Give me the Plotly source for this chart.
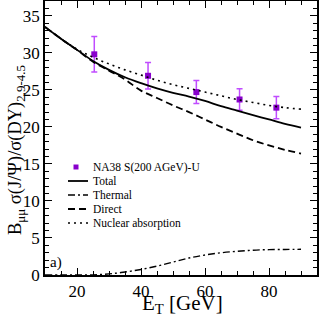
import plotly.graph_objects as go

# Data
et_data = [25.4, 42.2, 57.3, 70.8, 82.3]
ratio_data = [29.8, 26.9, 24.7, 23.7, 22.6]
ratio_err = [2.4, 1.8, 1.55, 1.45, 1.5]

et_curve = [10, 15, 20, 25, 30, 35, 40, 45, 50, 55, 60, 65, 70, 75, 80, 85, 90]
total = [33.5, 31.9, 30.4, 28.9, 27.7, 26.7, 25.9, 25.2, 24.6, 24.1, 23.5, 22.8, 22.2, 21.6, 21.0, 20.4, 19.9]
thermal = [0.0, 0.0, 0.0, 0.02, 0.15, 0.4, 0.75, 1.2, 1.75, 2.3, 2.7, 3.0, 3.2, 3.35, 3.42, 3.45, 3.47]
direct = [33.5, 31.9, 30.4, 28.8, 27.6, 26.4, 24.9, 23.9, 22.9, 22.0, 21.0, 20.0, 19.1, 18.2, 17.5, 16.9, 16.4]
nuclear = [33.5, 31.9, 30.5, 29.4, 28.5, 27.7, 27.0, 26.3, 25.7, 25.2, 24.7, 24.2, 23.7, 23.3, 22.9, 22.6, 22.4]

legend_labels = ["NA38 S(200 AGeV)-U", "Total", "Thermal", "Direct", "Nuclear absorption"]

FONT = "Times New Roman, Liberation Serif, Tinos, serif"
MARKER_COLOR = "#8800cc"
ERR_COLOR = "#c04cff"

styles = {
    "Total": dict(color="black", width=1.8, dash="solid"),
    "Thermal": dict(color="black", width=1.4, dash="7px,3px,2px,3px"),
    "Direct": dict(color="black", width=1.8, dash="7px,4px"),
    "Nuclear absorption": dict(color="black", width=1.6, dash="2px,4px"),
}

fig = go.Figure()
fig.add_trace(go.Scatter(
    x=et_data, y=ratio_data, mode="markers", name=legend_labels[0],
    marker=dict(symbol="square", size=6, color=MARKER_COLOR),
    error_y=dict(type="data", array=ratio_err, color=ERR_COLOR, thickness=1.5, width=3),
))
for name, vals in [("Total", total), ("Thermal", thermal), ("Direct", direct),
                   ("Nuclear absorption", nuclear)]:
    fig.add_trace(go.Scatter(x=et_curve, y=vals, mode="lines", name=name,
                             line=dict(shape="spline", **styles[name])))

axis_common = dict(
    showline=True, linecolor="black", linewidth=1.5, mirror="ticks",
    ticks="inside", ticklen=7, tickwidth=1.2, tickcolor="black",
    showgrid=False, zeroline=False, automargin=False,
    tickfont=dict(family=FONT, size=17, color="black"),
)

fig.update_xaxes(
    range=[10, 95], tickmode="array", tickvals=[20, 40, 60, 80],
    minor=dict(dtick=5, tick0=0, ticks="inside", ticklen=4, tickcolor="black", tickwidth=1),
    **axis_common,
)
fig.update_yaxes(
    range=[0, 37], tickmode="array", tickvals=[0, 5, 10, 15, 20, 25, 30, 35],
    minor=dict(dtick=1, tick0=0, ticks="inside", ticklen=4, tickcolor="black", tickwidth=1),
    **axis_common,
)

# plot-area geometry in pixels (for placing the layout texts / legend)
W, H = 320, 318
L, R, T, B = 45, 3, 1, 43
pw, ph = W - L - R, H - T - B


def px(xp):
    return (xp - L) / pw


def py(yp):
    return (H - B - yp) / ph


# axis titles
fig.add_annotation(x=px(182), y=py(304), xref="paper", yref="paper",
                   text="E<sub>T</sub> [GeV]", showarrow=False,
                   xanchor="center", yanchor="middle",
                   font=dict(family=FONT, size=21, color="black"))
fig.add_annotation(x=px(17), y=py(150), xref="paper", yref="paper",
                   text="B<sub>μμ</sub> σ(J/Ψ)/σ(DY)<sub>2.9-4.5</sub>", showarrow=False,
                   textangle=-90, xanchor="center", yanchor="middle",
                   font=dict(family=FONT, size=18.5, color="black"))

fig.add_annotation(x=px(48), y=py(262), xref="paper", yref="paper", text="a)",
                   showarrow=False, xanchor="left", yanchor="middle",
                   font=dict(family=FONT, size=15, color="black"))

# legend drawn compactly (row spacing as in the reference)
rows_y = [167, 181, 195, 209, 223]
for i, (lab, yrow) in enumerate(zip(legend_labels, rows_y)):
    fig.add_annotation(x=px(91), y=py(yrow), xref="paper", yref="paper", text=lab,
                       showarrow=False, xanchor="left", yanchor="middle",
                       font=dict(family=FONT, size=11.5, color="black"))
    if i == 0:
        fig.add_shape(type="rect", xref="paper", yref="paper",
                      x0=px(73.5), x1=px(78.5), y0=py(yrow + 2.5), y1=py(yrow - 2.5),
                      fillcolor=MARKER_COLOR, line=dict(width=0))
    else:
        st = styles[lab]
        fig.add_shape(type="line", xref="paper", yref="paper",
                      x0=px(68), x1=px(88), y0=py(yrow), y1=py(yrow),
                      line=dict(color=st["color"], width=st["width"], dash=st["dash"]))

fig.update_layout(
    width=W, height=H,
    margin=dict(l=L, r=R, t=T, b=B),
    paper_bgcolor="white", plot_bgcolor="white",
    showlegend=False,
)

fig.write_html("out.html", config={"displayModeBar": False},
               post_script="document.body.style.margin='0';")
